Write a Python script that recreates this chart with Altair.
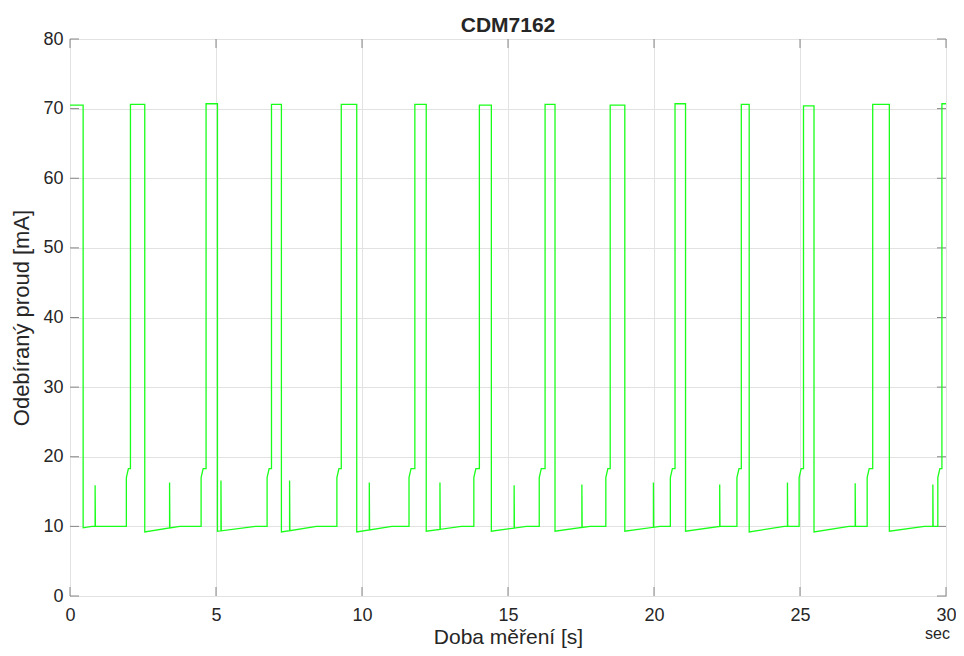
import altair as alt
import numpy as np
import pandas as pd

# ---- values ----
title_text = "CDM7162"
x_title = "Doba měření [s]"
y_title = "Odebíraný proud [mA]"
unit_label = "sec"

x_ticks = [0, 5, 10, 15, 20, 25, 30]
y_ticks = [0, 10, 20, 30, 40, 50, 60, 70, 80]

# times (s) where the current drops from the high level
fall_t = [0.45, 2.56, 5.05, 7.24, 9.82, 12.20, 14.43, 16.61, 19.00, 21.08, 23.26, 25.48, 28.06]
# lowest value right after each drop (mA)
dip_v = [9.8, 9.2, 9.3, 9.2, 9.2, 9.3, 9.3, 9.3, 9.3, 9.3, 9.2, 9.2, 9.3]
# time needed to recover to the rest level (s)
recover_s = [0.3, 1.2, 1.3, 1.2, 1.2, 1.2, 1.2, 1.2, 1.2, 1.2, 1.2, 1.2, 1.2]
rest_v = 10.0
# short spikes during the low phase
spike_t = [0.86, 3.41, 5.17, 7.52, 10.25, 12.67, 15.21, 17.53, 19.98, 22.25, 24.57, 26.89, 29.55]
spike_v = [15.9, 16.3, 16.6, 16.6, 16.3, 16.3, 15.9, 16.0, 16.3, 16.0, 16.3, 16.2, 16.0]
# intermediate step before each rise
step_t = [1.93, 4.49, 6.75, 9.14, 11.61, 13.83, 16.07, 18.35, 20.56, 22.84, 24.97, 27.30, 29.72]
step_lo = 17.0
step_hi = 18.3
# times where the current jumps to the high level
rise_t = [2.07, 4.66, 6.90, 9.29, 11.81, 14.02, 16.27, 18.50, 20.72, 22.99, 25.12, 27.49, 29.86]
# high level of each high phase (first partial, 12 pulses, last partial)
top_v = [70.5, 70.6, 70.7, 70.6, 70.6, 70.6, 70.5, 70.6, 70.5, 70.7, 70.6, 70.4, 70.6, 70.7]
t_end = 30.0

# ---- build the polyline from the read events ----
pts = [(0.0, top_v[0])]
for i in range(len(fall_t)):
    pts.append((fall_t[i], top_v[i]))
    pts.append((fall_t[i], dip_v[i]))
    r_end = fall_t[i] + recover_s[i]
    base = float(np.interp(spike_t[i], [fall_t[i], r_end], [dip_v[i], rest_v]))
    low = [(r_end, rest_v, 0), (spike_t[i], base, 1), (spike_t[i], spike_v[i], 2),
           (spike_t[i] + 0.01, base, 3)]
    low.sort(key=lambda p: (p[0], p[2]))
    pts += [(a, b) for a, b, _ in low]
    pts.append((step_t[i], rest_v))
    pts.append((step_t[i], step_lo))
    pts.append((step_t[i] + 0.07, step_hi))
    pts.append((rise_t[i], step_hi))
    pts.append((rise_t[i], top_v[i + 1]))
pts.append((t_end, top_v[-1]))

df = pd.DataFrame({"t": [p[0] for p in pts], "v": [p[1] for p in pts]})
df["i"] = range(len(df))

xt_df = pd.DataFrame({"t": x_ticks})
yt_df = pd.DataFrame({"v": y_ticks})

FONT = "Liberation Sans"
TXT = "#262626"
AX = "#868686"
W, H = 876, 557

xscale = alt.Scale(domain=[0, 30], nice=False, zero=False)
yscale = alt.Scale(domain=[0, 80], nice=False, zero=False)

xaxis = alt.Axis(values=x_ticks, title=x_title, grid=True, gridColor="#e2e2e2", gridWidth=1,
                 domain=False, ticks=False, labelPadding=10, labelFontSize=18, labelFont=FONT,
                 labelColor=TXT, titleFont=FONT, titleFontSize=21, titleFontWeight="normal",
                 titleColor=TXT, titleX=W / 2, titleY=47, titleBaseline="alphabetic",
                 titleAlign="center", labelFlush=False)
yaxis = alt.Axis(values=y_ticks, title=y_title, grid=True, gridColor="#e2e2e2", gridWidth=1,
                 domain=False, ticks=False, labelPadding=7, labelFontSize=18, labelFont=FONT,
                 labelColor=TXT, titleFont=FONT, titleFontSize=22, titleFontWeight="normal",
                 titleColor=TXT, titleX=-42, titleY=H / 2, titleAngle=-90,
                 titleBaseline="alphabetic", titleAlign="center", labelFlush=False)

X = alt.X("t:Q", scale=xscale, axis=xaxis)
Y = alt.Y("v:Q", scale=yscale, axis=yaxis)

line = alt.Chart(df).mark_line(color="#1aff1a", strokeWidth=1.3).encode(
    x=X, y=Y, order=alt.Order("i:Q"))

tick_len = 9
xt_bottom = alt.Chart(xt_df).mark_rule(color=AX, strokeWidth=1).encode(
    x=X, y=alt.value(H), y2=alt.value(H - tick_len))
xt_top = alt.Chart(xt_df).mark_rule(color=AX, strokeWidth=1).encode(
    x=X, y=alt.value(0), y2=alt.value(tick_len))
yt_left = alt.Chart(yt_df).mark_rule(color=AX, strokeWidth=1).encode(
    y=Y, x=alt.value(0), x2=alt.value(tick_len))
yt_right = alt.Chart(yt_df).mark_rule(color=AX, strokeWidth=1).encode(
    y=Y, x=alt.value(W), x2=alt.value(W - tick_len))

title = alt.Chart(pd.DataFrame({"label": [title_text]})).mark_text(
    font=FONT, fontSize=21, fontWeight="bold", color=TXT, align="center",
    baseline="alphabetic").encode(text="label:N", x=alt.value(W / 2), y=alt.value(-7))

unit = alt.Chart(pd.DataFrame({"label": [unit_label]})).mark_text(
    font=FONT, fontSize=16, color=TXT, align="right",
    baseline="alphabetic").encode(text="label:N", x=alt.value(W + 4), y=alt.value(H + 43))

chart = alt.layer(xt_bottom, xt_top, yt_left, yt_right, line, title, unit).properties(
    width=W, height=H, autosize="none",
    padding={"left": 62, "top": 31, "right": 10, "bottom": 52},
    background="white",
).configure_view(stroke=AX, strokeWidth=1)

chart.save("out.html", embed_options={"renderer": "svg", "actions": False})
